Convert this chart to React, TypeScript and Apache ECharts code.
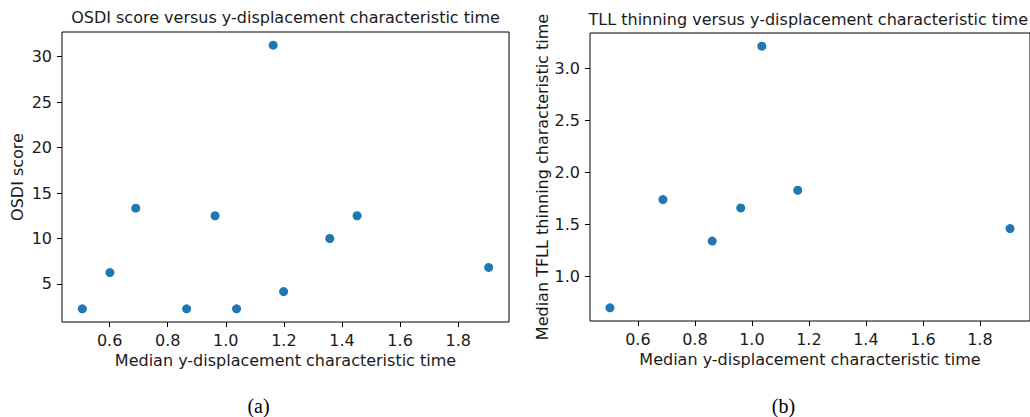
import React, { useEffect, useRef } from "react";
import * as echarts from "echarts";

const xA = [0.506, 0.601, 0.69, 0.865, 0.963, 1.037, 1.163, 1.199, 1.358, 1.452, 1.905];
const osdi = [2.27, 6.25, 13.33, 2.27, 12.5, 2.27, 31.25, 4.17, 10.0, 12.5, 6.82];
const xB = [0.502, 0.688, 0.861, 0.961, 1.035, 1.161, 1.906];
const tfll = [0.698, 1.737, 1.339, 1.657, 3.21, 1.827, 1.459];

const xTicks = [0.6, 0.8, 1.0, 1.2, 1.4, 1.6, 1.8];
const yTicksA = [5, 10, 15, 20, 25, 30];
const yTicksB = [1.0, 1.5, 2.0, 2.5, 3.0];

const titleA = "OSDI score versus y-displacement characteristic time";
const titleB = "TLL thinning versus y-displacement characteristic time";
const xName = "Median y-displacement characteristic time";
const yNameA = "OSDI score";
const yNameB = "Median TFLL thinning characteristic time";

const FONT = "DejaVu Sans";
const TXT = "#1a1a1a";
const FS = 16;

function xAxis(gridIndex: number, min: number, max: number) {
  return {
    type: "value",
    gridIndex,
    min,
    max,
    name: xName,
    nameLocation: "middle",
    nameGap: 28,
    nameTextStyle: { fontFamily: FONT, fontSize: FS, color: TXT },
    axisLine: { show: false },
    splitLine: { show: false },
    axisTick: { show: true, inside: false, length: 5, customValues: xTicks, lineStyle: { color: "#000" } },
    axisLabel: {
      show: true,
      margin: 10,
      customValues: xTicks,
      fontFamily: FONT,
      fontSize: FS,
      color: TXT,
      formatter: (v: number) => v.toFixed(1),
    },
  };
}

function yAxis(gridIndex: number, min: number, max: number, ticks: number[], name: string, gap: number, dec: number) {
  return {
    type: "value",
    gridIndex,
    min,
    max,
    name,
    nameLocation: "middle",
    nameGap: gap,
    nameTextStyle: { fontFamily: FONT, fontSize: FS, color: TXT },
    axisLine: { show: false },
    splitLine: { show: false },
    axisTick: { show: true, inside: false, length: 5, customValues: ticks, lineStyle: { color: "#000" } },
    axisLabel: {
      show: true,
      margin: 10,
      customValues: ticks,
      fontFamily: FONT,
      fontSize: FS,
      color: TXT,
      formatter: (v: number) => v.toFixed(dec),
    },
  };
}

export default function App() {
  const ref = useRef<HTMLDivElement>(null);
  useEffect(() => {
    if (!ref.current) return;
    const chart = echarts.init(ref.current, undefined, { renderer: "svg" });
    chart.setOption({
      animation: false,
      backgroundColor: "#fff",
      grid: [
        { left: 62, top: 32, width: 447, height: 290, show: true, borderColor: "#000", borderWidth: 1, backgroundColor: "transparent" },
        { left: 590, top: 33, width: 444, height: 288, show: true, borderColor: "#000", borderWidth: 1, backgroundColor: "transparent" },
      ],
      xAxis: [xAxis(0, 0.436, 1.975), xAxis(1, 0.432, 1.976)],
      yAxis: [
        yAxis(0, 0.82, 32.7, yTicksA, yNameA, 37, 0),
        yAxis(1, 0.572, 3.336, yTicksB, yNameB, 39, 1),
      ],
      series: [
        {
          type: "scatter",
          xAxisIndex: 0,
          yAxisIndex: 0,
          symbolSize: 9,
          itemStyle: { color: "#1f77b4", opacity: 1 },
          data: xA.map((x, i) => [x, osdi[i]]),
        },
        {
          type: "scatter",
          xAxisIndex: 1,
          yAxisIndex: 1,
          symbolSize: 9,
          itemStyle: { color: "#1f77b4", opacity: 1 },
          data: xB.map((x, i) => [x, tfll[i]]),
        },
      ],
      graphic: [
        { type: "text", x: 285.5, y: 17, style: { text: titleA, fontFamily: FONT, fontSize: FS, fill: TXT, align: "center", verticalAlign: "middle" } },
        { type: "text", x: 1028, y: 19, style: { text: titleB, fontFamily: FONT, fontSize: FS, fill: TXT, align: "right", verticalAlign: "middle" } },
        { type: "text", x: 258.5, y: 406, style: { text: "(a)", fontFamily: "Liberation Serif", fontSize: 20, fill: "#000", align: "center", verticalAlign: "middle" } },
        { type: "text", x: 783.5, y: 406, style: { text: "(b)", fontFamily: "Liberation Serif", fontSize: 20, fill: "#000", align: "center", verticalAlign: "middle" } },
      ],
    });
    return () => chart.dispose();
  }, []);
  return <div ref={ref} style={{ position: "fixed", left: 0, top: 0, width: 1030, height: 417 }} />;
}
